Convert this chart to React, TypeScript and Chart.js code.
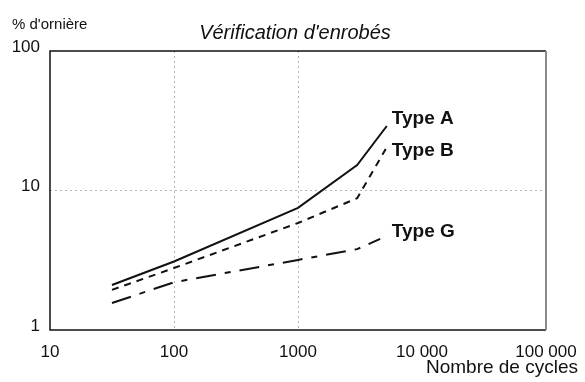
import React, { useEffect, useRef } from "react";
import { Chart, registerables } from "chart.js";

Chart.register(...registerables);

// ---- data ----
const chartTitle = "Vérification d'enrobés";
const yAxisTitle = "% d'ornière";
const xAxisTitle = "Nombre de cycles";

const xTickValues = [10, 100, 1000, 10000, 100000];
const xTickLabels = ["10", "100", "1000", "10 000", "100 000"];
const yTickValues = [1, 10, 100];
const yTickLabels = ["1", "10", "100"];
const xGridValues = [100, 1000];
const yGridValues = [10];

const seriesNames = ["Type A", "Type B", "Type G"];
const cyclesA = [31.6, 100, 1000, 3000, 5200];
const rutA = [2.1, 3.1, 7.5, 15.2, 29];
const cyclesB = [31.6, 100, 1000, 3000, 5100];
const rutB = [1.94, 2.78, 5.85, 8.8, 19.8];
const cyclesG = [31.6, 100, 1000, 3000, 4600];
const rutG = [1.56, 2.2, 3.18, 3.8, 4.5];

const FONT = "'Liberation Sans', Arial, Helvetica, sans-serif";
const INK = "#111";

const pts = (xs: number[], ys: number[]) => xs.map((x, i) => ({ x, y: ys[i] }));

const annotate = {
  id: "annotate",
  afterDraw(chart: any) {
    const { ctx, chartArea: a } = chart;
    ctx.save();
    // frame
    ctx.setLineDash([]);
    ctx.strokeStyle = INK;
    ctx.lineWidth = 1.5;
    ctx.beginPath();
    ctx.moveTo(a.right, a.top);
    ctx.lineTo(a.left, a.top);
    ctx.lineTo(a.left, a.bottom);
    ctx.lineTo(a.right, a.bottom);
    ctx.stroke();
    ctx.strokeStyle = "#8a8a8a";
    ctx.lineWidth = 2;
    ctx.beginPath();
    ctx.moveTo(a.right, a.top);
    ctx.lineTo(a.right, a.bottom);
    ctx.stroke();

    ctx.fillStyle = INK;
    ctx.textBaseline = "middle";
    // chart title
    ctx.font = `italic 20px ${FONT}`;
    ctx.textAlign = "center";
    ctx.fillText(chartTitle, (a.left + a.right) / 2 - 3, a.top - 18);
    // y axis title
    ctx.font = `15px ${FONT}`;
    ctx.textAlign = "left";
    ctx.fillText(yAxisTitle, 12, a.top - 26);
    // x axis title
    ctx.font = `19px ${FONT}`;
    ctx.textAlign = "right";
    ctx.fillText(xAxisTitle, a.right + 32, a.bottom + 38);

    // series labels
    let maxX = 0;
    chart.data.datasets.forEach((_: any, i: number) => {
      const m = chart.getDatasetMeta(i);
      const last = m.data[m.data.length - 1];
      maxX = Math.max(maxX, last.x);
    });
    ctx.font = `bold 19px ${FONT}`;
    ctx.textAlign = "left";
    chart.data.datasets.forEach((ds: any, i: number) => {
      const m = chart.getDatasetMeta(i);
      const last = m.data[m.data.length - 1];
      ctx.fillText(ds.label, maxX + 5, last.y + ds.labelDy);
    });
    ctx.restore();
  },
};

export default function App() {
  const ref = useRef<HTMLCanvasElement>(null);
  useEffect(() => {
    const canvas = ref.current!;
    const chart = new Chart(canvas, {
      type: "line",
      data: {
        datasets: [
          {
            label: seriesNames[0],
            data: pts(cyclesA, rutA),
            borderColor: INK,
            borderWidth: 2,
            pointRadius: 0,
            tension: 0,
            labelDy: -7,
          } as any,
          {
            label: seriesNames[1],
            data: pts(cyclesB, rutB),
            borderColor: INK,
            borderWidth: 2,
            borderDash: [7, 6],
            pointRadius: 0,
            tension: 0,
            labelDy: 2,
          } as any,
          {
            label: seriesNames[2],
            data: pts(cyclesG, rutG),
            borderColor: INK,
            borderWidth: 2,
            borderDash: [20, 9, 6, 9],
            pointRadius: 0,
            tension: 0,
            labelDy: -7,
          } as any,
        ],
      },
      options: {
        animation: false,
        responsive: false,
        maintainAspectRatio: false,
        layout: { padding: { top: 51, right: 39, left: 0, bottom: 0 } },
        plugins: {
          legend: { display: false },
          title: { display: false },
          tooltip: { enabled: false },
        },
        scales: {
          x: {
            type: "logarithmic",
            min: 10,
            max: 100000,
            afterBuildTicks: (s: any) => {
              s.ticks = xTickValues.map((v) => ({ value: v }));
            },
            afterFit: (s: any) => {
              s.height = 52;
              s.paddingLeft = 0;
              s.paddingRight = 0;
            },
            ticks: {
              autoSkip: false,
              maxRotation: 0,
              padding: 12,
              color: INK,
              font: { family: FONT, size: 17 },
              callback: (v: any) => {
                const i = xTickValues.indexOf(Number(v));
                return i >= 0 ? xTickLabels[i] : null;
              },
            },
            grid: {
              drawTicks: false,
              lineWidth: 1,
              color: (c: any) =>
                c.tick && xGridValues.includes(c.tick.value) ? "#b4b4b4" : "rgba(0,0,0,0)",
            },
            border: { display: false, dash: [2, 3] },
          },
          y: {
            type: "logarithmic",
            min: 1,
            max: 100,
            afterBuildTicks: (s: any) => {
              s.ticks = yTickValues.map((v) => ({ value: v }));
            },
            afterFit: (s: any) => {
              s.width = 50;
              s.paddingTop = 0;
              s.paddingBottom = 0;
            },
            ticks: {
              padding: 10,
              labelOffset: -4,
              color: INK,
              font: { family: FONT, size: 17 },
              callback: (v: any) => {
                const i = yTickValues.indexOf(Number(v));
                return i >= 0 ? yTickLabels[i] : null;
              },
            },
            grid: {
              drawTicks: false,
              lineWidth: 1,
              color: (c: any) =>
                c.tick && yGridValues.includes(c.tick.value) ? "#b4b4b4" : "rgba(0,0,0,0)",
            },
            border: { display: false, dash: [2, 3] },
          },
        },
      },
      plugins: [annotate],
    });
    return () => chart.destroy();
  }, []);
  return (
    <div style={{ position: "absolute", left: 0, top: 0, width: 585, height: 382, background: "#fff" }}>
      <canvas ref={ref} width={585} height={382} style={{ width: 585, height: 382, display: "block" }} />
    </div>
  );
}
